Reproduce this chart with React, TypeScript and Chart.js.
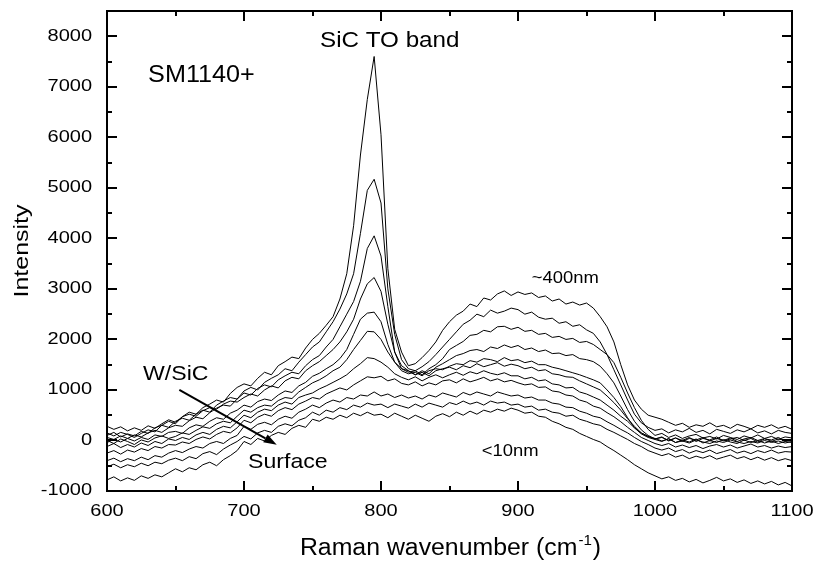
import { useEffect, useRef } from 'react';
import { Chart, registerables } from 'chart.js';

Chart.register(...registerables);

// Raman wavenumber axis (cm^-1), one sample every 5 cm^-1
const WAVENUMBER = [
  600, 605, 610, 615, 620, 625, 630, 635, 640, 645,
  650, 655, 660, 665, 670, 675, 680, 685, 690, 695,
  700, 705, 710, 715, 720, 725, 730, 735, 740, 745,
  750, 755, 760, 765, 770, 775, 780, 785, 790, 795,
  800, 805, 810, 815, 820, 825, 830, 835, 840, 845,
  850, 855, 860, 865, 870, 875, 880, 885, 890, 895,
  900, 905, 910, 915, 920, 925, 930, 935, 940, 945,
  950, 955, 960, 965, 970, 975, 980, 985, 990, 995,
  1000, 1005, 1010, 1015, 1020, 1025, 1030, 1035, 1040, 1045,
  1050, 1055, 1060, 1065, 1070, 1075, 1080, 1085, 1090, 1095,
  1100,
];

// ~400 nm (W/SiC side)
const DEPTH_400NM = [
  150, 90, 160, 120, 60, 140, 210, 170, 300, 380,
  330, 470, 560, 520, 650, 720, 800, 760, 930, 1050,
  1120, 1080, 1230, 1350, 1300, 1480, 1560, 1650, 1620, 1830,
  2000, 2120, 2280, 2450, 2800, 3300, 4250, 5650, 6750, 7600,
  6050, 3400, 2200, 1750, 1480, 1520, 1640, 1780, 1950, 2180,
  2350, 2480, 2560, 2700, 2650, 2820, 2780, 2900, 2960, 2870,
  2940, 2890, 2920, 2830, 2860, 2760, 2800, 2700, 2740, 2680,
  2720, 2620, 2450, 2250, 1950, 1500, 1100, 800, 620, 500,
  460, 420, 360, 300, 340, 260, 310, 280, 350, 270,
  300, 240, 320, 280, 230, 300, 260, 310, 240, 280,
  220,
];
const DEPTH_2 = [
  100, 160, 70, 130, 90, 180, 140, 250, 300, 260,
  380, 440, 400, 520, 600, 560, 700, 780, 850, 820,
  980, 1050, 1000, 1150, 1230, 1300, 1420, 1380, 1550, 1700,
  1850, 1950, 2150, 2350, 2600, 2900, 3300, 4100, 4950, 5170,
  4700, 3000, 2100, 1600, 1420, 1380, 1460, 1560, 1700, 1850,
  2000, 2150, 2300, 2380, 2500, 2450, 2580, 2520, 2560, 2620,
  2590, 2500, 2540, 2440, 2400, 2420, 2320, 2350, 2260, 2290,
  2190, 2120, 1950, 1700, 1400, 1100, 800, 520, 350, 260,
  200, 230, 150, 210, 170, 240, 160, 200, 130, 220,
  180, 140, 210, 170, 230, 150, 190, 130, 200, 160,
  140,
];
const DEPTH_3 = [
  60, 20, 90, 40, 110, 70, 150, 200, 160, 250,
  300, 280, 390, 460, 430, 550, 640, 700, 680, 820,
  940, 900, 1030, 1100, 1060, 1200, 1280, 1350, 1320, 1480,
  1600, 1680, 1850, 2000, 2250, 2500, 2750, 3150, 3800, 4050,
  3650, 2650, 1750, 1420, 1350, 1380, 1300, 1420, 1500, 1620,
  1800, 1880, 1960, 2080, 2100, 2180, 2150, 2250, 2260, 2200,
  2240, 2160, 2180, 2100, 2120, 2040, 2060, 2000, 2020, 1940,
  1960, 1900, 1800, 1700, 1540, 1250, 940, 650, 400, 220,
  100, 140, 60, 110, 40, 90, 120, 50, 80, 30,
  100, 60, 20, 90, 50, 110, 40, 80, 20, 70,
  50,
];
const DEPTH_4 = [
  280, 220, 270, 190, 250, 200, 290, 240, 330, 410,
  360, 470, 520, 480, 590, 650, 620, 720, 780, 760,
  850, 920, 880, 1000, 1080, 1040, 1180, 1250, 1220, 1380,
  1480, 1560, 1680, 1800, 1950, 2150, 2400, 2800, 3100, 3225,
  2950, 2300, 1750, 1480, 1380, 1300, 1380, 1320, 1450, 1520,
  1600, 1680, 1720, 1780, 1800, 1760, 1850, 1820, 1890, 1840,
  1880, 1800, 1830, 1760, 1790, 1720, 1730, 1680, 1700, 1620,
  1600, 1560, 1470, 1320, 1140, 880, 610, 380, 210, 100,
  30, 70, -10, 50, 0, 60, -20, 40, 10, 70,
  -10, 30, 60, 0, 40, -30, 30, 10, 60, -10,
  20,
];
const DEPTH_5 = [
  -40, 20, -30, 40, -10, 60, 20, 110, 80, 160,
  180, 140, 250, 310, 280, 380, 450, 420, 540, 600,
  700, 660, 770, 820, 790, 900, 980, 950, 1080, 1150,
  1270, 1330, 1420, 1500, 1620, 1800, 2100, 2400, 2520, 2540,
  2350, 1900, 1550, 1380, 1320, 1350, 1280, 1380, 1420, 1400,
  1470, 1520, 1500, 1580, 1550, 1620, 1600, 1560, 1640, 1580,
  1600, 1540, 1570, 1500, 1500, 1450, 1420, 1380, 1340, 1300,
  1250, 1200, 1140, 1000, 850, 670, 450, 250, 130, 60,
  20, -20, 40, -40, 10, -30, 30, -50, 0, -40,
  20, -30, -60, 10, -40, 0, -50, -10, -60, -20,
  -40,
];
const DEPTH_6 = [
  0, -60, 30, -20, -80, 10, -30, 50, 90, 40,
  80, 150, 120, 200, 270, 240, 330, 380, 350, 480,
  600, 560, 650, 700, 680, 790, 850, 830, 960, 1050,
  1140, 1200, 1280, 1380, 1450, 1600, 1800, 1980, 2160, 2150,
  2000, 1750, 1550, 1420, 1380, 1300, 1350, 1280, 1380, 1420,
  1450, 1400, 1480, 1440, 1520, 1460, 1500, 1540, 1470, 1510,
  1480, 1420, 1450, 1380, 1400, 1320, 1300, 1260, 1250, 1180,
  1120, 1060, 1000, 880, 750, 600, 430, 280, 150, 80,
  30, 60, 0, 50, -20, 40, 10, 60, -10, 40,
  0, 50, -20, 30, 60, 0, 40, -20, 30, 0,
  20,
];
const DEPTH_7 = [
  -120, -60, -140, -80, -130, -50, -100, -20, -60, 30,
  0, 60, 20, 110, 160, 120, 220, 280, 250, 370,
  500, 450, 560, 620, 590, 700, 760, 720, 850, 900,
  940, 1020, 1080, 1150, 1220, 1300, 1420, 1520, 1640, 1620,
  1550, 1450, 1320, 1250, 1200, 1260, 1180, 1250, 1300, 1240,
  1300, 1350, 1290, 1360, 1320, 1380, 1330, 1300, 1340, 1280,
  1280, 1220, 1250, 1180, 1200, 1120, 1100, 1040, 1050, 960,
  920, 860, 800, 700, 600, 480, 380, 250, 150, 80,
  40, -10, 30, -40, -10, -50, 10, -30, -60, -10,
  -40, 10, -30, -60, -20, -50, 0, -40, -10, -50,
  -20,
];
const DEPTH_8 = [
  -250, -200, -270, -190, -230, -160, -200, -120, -150, -80,
  -90, -30, -60, 20, 70, 30, 120, 180, 150, 250,
  400, 350, 460, 520, 480, 590, 650, 610, 720, 780,
  850, 820, 920, 980, 1040, 1000, 1100, 1180, 1260, 1240,
  1270, 1180, 1220, 1130, 1100, 1160, 1080, 1140, 1100, 1180,
  1200, 1140, 1220, 1160, 1200, 1250, 1180, 1220, 1160, 1190,
  1140, 1100, 1120, 1050, 1060, 980, 960, 900, 880, 800,
  760, 680, 640, 550, 470, 370, 260, 160, 60, 0,
  -60, -100, -60, -130, -90, -140, -100, -160, -110, -80,
  -130, -90, -150, -110, -70, -130, -100, -150, -110, -140,
  -120,
];
const DEPTH_9 = [
  -400, -350, -420, -360, -400, -330, -380, -300, -330, -250,
  -200, -240, -170, -120, -150, -60, -20, -60, 40, 100,
  280, 220, 320, 360, 310, 420, 480, 440, 560, 620,
  700, 650, 740, 800, 760, 850, 820, 900, 880, 960,
  880, 920, 850, 900, 840, 880, 820, 900, 860, 940,
  900, 860, 950, 900, 960, 920, 880, 960, 920, 880,
  900, 840, 860, 800, 800, 740, 720, 660, 650, 580,
  540, 480, 450, 370, 300, 220, 150, 60, -20, -80,
  -150, -190, -150, -220, -180, -250, -200, -240, -190, -260,
  -220, -180, -250, -210, -260, -200, -240, -190, -250, -220,
  -230,
];
const DEPTH_10 = [
  -520, -470, -540, -480, -520, -450, -500, -430, -460, -390,
  -350, -400, -320, -360, -260, -220, -280, -170, -90, -20,
  80, 30, 150, 200, 160, 280, 330, 290, 400, 450,
  560, 500, 600, 560, 650, 610, 700, 660, 740, 700,
  720, 650, 720, 680, 640, 720, 660, 740, 700, 660,
  750, 710, 780, 720, 760, 700, 780, 740, 760, 700,
  720, 660, 680, 600, 620, 560, 540, 480, 500, 420,
  380, 330, 300, 220, 160, 90, 20, -60, -120, -200,
  -250, -300, -260, -330, -290, -360, -310, -350, -300, -370,
  -330, -290, -360, -320, -380, -330, -390, -340, -400, -360,
  -400,
];
// <10 nm (surface)
const DEPTH_SURFACE = [
  -780, -720, -800, -740, -790, -700, -750, -680, -720, -640,
  -560, -620, -540, -580, -480, -430, -500, -380, -300, -200,
  -20, -80, 40, -10, 100, 160, 120, 240, 300, 260,
  420, 380, 460, 420, 500, 450, 540, 490, 560, 500,
  520, 450, 540, 480, 420, 500, 440, 380, 480, 530,
  470, 560, 500, 580, 520, 600, 560, 620, 580, 640,
  600, 540, 560, 480, 460, 380, 330, 260, 220, 140,
  80, 20, -30, -120, -200, -290, -380, -480, -560, -640,
  -700, -760, -720, -790, -750, -820, -770, -840, -790, -730,
  -800, -760, -830, -780, -850, -800, -860, -810, -880, -830,
  -900,
];

const SPECTRA = [
  DEPTH_400NM, DEPTH_2, DEPTH_3, DEPTH_4, DEPTH_5, DEPTH_6,
  DEPTH_7, DEPTH_8, DEPTH_9, DEPTH_10, DEPTH_SURFACE,
];

const X_RANGE = [600, 1100];
const Y_RANGE = [-1000, 8500];
const X_TICKS = [600, 700, 800, 900, 1000, 1100];
const X_MINOR = [650, 750, 850, 950, 1050];
const Y_TICKS = [-1000, 0, 1000, 2000, 3000, 4000, 5000, 6000, 7000, 8000];
const Y_MINOR = [-500, 500, 1500, 2500, 3500, 4500, 5500, 6500, 7500];

const X_TITLE = 'Raman wavenumber (cm';
const X_TITLE_SUP = '-1';
const X_TITLE_END = ')';
const Y_TITLE = 'Intensity';

// annotations, anchored in data coordinates (left / baseline)
const NOTES = [
  { text: 'SM1140+', x: 630, y: 7100, size: 24, sx: 1.05 },
  { text: 'SiC TO band', x: 755.5, y: 7790, size: 22, sx: 1.1 },
  { text: '~400nm', x: 910, y: 3115, size: 16, sx: 1.15 },
  { text: '<10nm', x: 873.5, y: -317, size: 16, sx: 1.15 },
  { text: 'W/SiC', x: 626.3, y: 1200, size: 21, sx: 1.1 },
  { text: 'Surface', x: 703, y: -540, size: 21, sx: 1.1 },
];
const ARROW_FROM = [652.8, 1003];
const ARROW_TO = [723.9, -85];

const FONT = '"Liberation Sans", Arial, Helvetica, sans-serif';

function drawText(
  ctx: CanvasRenderingContext2D,
  s: string,
  x: number,
  y: number,
  size: number,
  sx: number,
  align: CanvasTextAlign = 'left',
  baseline: CanvasTextBaseline = 'alphabetic',
  rot = 0,
) {
  ctx.save();
  ctx.font = `${size}px ${FONT}`;
  ctx.fillStyle = '#000';
  ctx.translate(x, y);
  if (rot) ctx.rotate(rot);
  ctx.scale(sx, 1);
  ctx.textAlign = align;
  ctx.textBaseline = baseline;
  ctx.fillText(s, 0, 0);
  ctx.restore();
}

const decor = {
  id: 'decor',
  afterDatasetsDraw(chart: any) {
    const { ctx, chartArea: a, scales } = chart;
    const xs = scales.x;
    const ys = scales.y;
    ctx.save();
    ctx.strokeStyle = '#000';
    ctx.lineWidth = 2;
    ctx.strokeRect(a.left, a.top, a.right - a.left, a.bottom - a.top);

    ctx.beginPath();
    const tickX = (v: number, len: number) => {
      const p = Math.round(xs.getPixelForValue(v));
      ctx.moveTo(p, a.bottom);
      ctx.lineTo(p, a.bottom - len);
      ctx.moveTo(p, a.top);
      ctx.lineTo(p, a.top + len);
    };
    const tickY = (v: number, len: number) => {
      const p = Math.round(ys.getPixelForValue(v));
      ctx.moveTo(a.left, p);
      ctx.lineTo(a.left + len, p);
      ctx.moveTo(a.right, p);
      ctx.lineTo(a.right - len, p);
    };
    X_TICKS.forEach((v) => tickX(v, 10));
    X_MINOR.forEach((v) => tickX(v, 5));
    Y_TICKS.forEach((v) => tickY(v, 10));
    Y_MINOR.forEach((v) => tickY(v, 5));
    ctx.stroke();

    // tick labels
    Y_TICKS.forEach((v) => {
      drawText(ctx, String(v), a.left - 15, ys.getPixelForValue(v), 16, 1.25, 'right', 'middle');
    });
    X_TICKS.forEach((v) => {
      drawText(ctx, String(v), xs.getPixelForValue(v), a.bottom + 25, 16, 1.25, 'center');
    });

    // axis titles
    drawText(ctx, Y_TITLE, 28, (a.top + a.bottom) / 2, 20, 1.25, 'center', 'alphabetic', -Math.PI / 2);
    {
      const size = 23;
      const supSize = 14;
      const sx = 1.08;
      ctx.font = `${size}px ${FONT}`;
      const w1 = ctx.measureText(X_TITLE).width * sx;
      const w3 = ctx.measureText(X_TITLE_END).width * sx;
      ctx.font = `${supSize}px ${FONT}`;
      const w2 = ctx.measureText(X_TITLE_SUP).width * sx;
      const cx = (a.left + a.right) / 2;
      const base = 555;
      let x0 = cx - (w1 + w2 + w3) / 2;
      drawText(ctx, X_TITLE, x0, base, size, sx);
      x0 += w1 + 1;
      drawText(ctx, X_TITLE_SUP, x0, base - 10, supSize, sx);
      x0 += w2 + 1;
      drawText(ctx, X_TITLE_END, x0, base, size, sx);
    }

    // annotations
    NOTES.forEach((n) => {
      drawText(ctx, n.text, xs.getPixelForValue(n.x), ys.getPixelForValue(n.y), n.size, n.sx);
    });

    // arrow W/SiC -> Surface
    const x1 = xs.getPixelForValue(ARROW_FROM[0]);
    const y1 = ys.getPixelForValue(ARROW_FROM[1]);
    const x2 = xs.getPixelForValue(ARROW_TO[0]);
    const y2 = ys.getPixelForValue(ARROW_TO[1]);
    const ang = Math.atan2(y2 - y1, x2 - x1);
    const head = 13;
    const half = 4.5;
    const bx = x2 - head * Math.cos(ang);
    const by = y2 - head * Math.sin(ang);
    ctx.lineWidth = 2;
    ctx.beginPath();
    ctx.moveTo(x1, y1);
    ctx.lineTo(bx, by);
    ctx.stroke();
    ctx.fillStyle = '#000';
    ctx.beginPath();
    ctx.moveTo(x2, y2);
    ctx.lineTo(bx + half * Math.sin(ang), by - half * Math.cos(ang));
    ctx.lineTo(bx - half * Math.sin(ang), by + half * Math.cos(ang));
    ctx.closePath();
    ctx.fill();

    ctx.restore();
  },
};

export default function App() {
  const ref = useRef<HTMLCanvasElement | null>(null);

  useEffect(() => {
    if (!ref.current) return;
    const chart = new Chart(ref.current, {
      type: 'line',
      data: {
        datasets: SPECTRA.map((s, i) => ({
          label: `spectrum ${i + 1}`,
          data: WAVENUMBER.map((w, j) => ({ x: w, y: s[j] })),
          borderColor: '#000',
          borderWidth: 1,
          pointRadius: 0,
          fill: false,
          tension: 0,
        })),
      },
      options: {
        responsive: false,
        animation: false,
        devicePixelRatio: 1,
        events: [],
        layout: { padding: { left: 0, top: 11, right: 23, bottom: 0 } },
        plugins: {
          legend: { display: false },
          tooltip: { enabled: false },
          title: { display: false },
        },
        scales: {
          x: {
            type: 'linear',
            min: X_RANGE[0],
            max: X_RANGE[1],
            ticks: { display: false },
            grid: { display: false },
            border: { display: false },
            afterFit(s: any) {
              s.height = 74;
            },
          },
          y: {
            type: 'linear',
            min: Y_RANGE[0],
            max: Y_RANGE[1],
            ticks: { display: false },
            grid: { display: false },
            border: { display: false },
            afterFit(s: any) {
              s.width = 107;
            },
          },
        },
      } as any,
      plugins: [decor],
    });
    return () => chart.destroy();
  }, []);

  return (
    <div style={{ position: 'absolute', left: 0, top: 0, width: 815, height: 565, background: '#fff' }}>
      <canvas ref={ref} width={815} height={565} style={{ display: 'block' }} />
    </div>
  );
}
